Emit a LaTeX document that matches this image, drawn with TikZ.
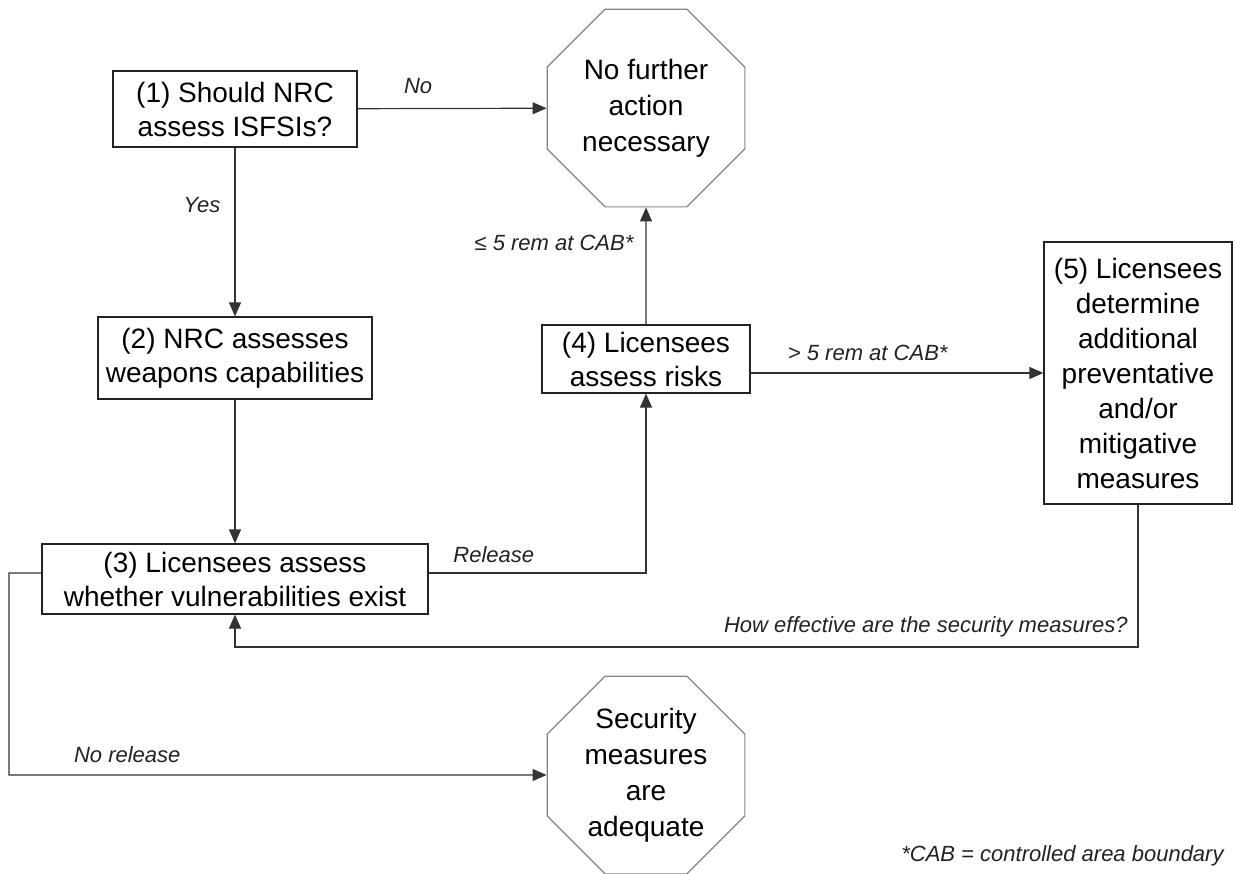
\documentclass[tikz,border=0pt]{standalone}
\usepackage{fontspec}
\setmainfont{Liberation Sans}
\usepackage{tikz}
\usetikzlibrary{positioning,arrows.meta,shapes.geometric}
\definecolor{ink}{HTML}{222222}
\definecolor{wire}{HTML}{333333}
\definecolor{edge}{HTML}{858585}
\tikzset{
  box/.style={draw=ink, line width=0.6pt, align=center, font=\fontsize{14}{17}\selectfont, inner sep=2pt},
  stop/.style={draw=edge, line width=0.6pt, regular polygon, regular polygon sides=8, minimum size=107pt, inner sep=0pt, align=center, font=\fontsize{14}{18}\selectfont},
  lab/.style={font=\fontsize{11}{12}\selectfont\itshape, text=ink, inner sep=1pt},
  flow/.style={-{Triangle[length=7pt, width=6pt]}, draw=wire, line width=0.6pt},
}
\begin{document}
\begin{tikzpicture}[x=0.5pt, y=-0.5pt]
    \useasboundingbox (0,0) rectangle (1236,873);
    % left column
    \node[box, minimum width=122pt, minimum height=38pt] (assess)  at (235,109) {(1) Should NRC\\assess ISFSIs?};
    \node[box, minimum width=137pt, minimum height=41pt] (weapons) at (235,358) {(2) NRC assesses\\weapons capabilities};
    \node[box, minimum width=193pt, minimum height=35pt] (vuln)    at (235,579) {(3) Licensees assess\\whether vulnerabilities exist};
    % middle and right
    \node[box, minimum width=104pt, minimum height=34pt] (risks)    at (646,359)  {(4) Licensees\\assess risks};
    \node[box, minimum width=94pt, minimum height=131pt, font=\fontsize{14}{17.5}\selectfont] (measures) at (1138,373) {(5) Licensees\\determine\\additional\\preventative\\and/or\\mitigative\\measures};
    % end states
    \node[stop] (none)     at (646,108) {No further\\action\\necessary};
    \node[stop] (adequate) at (646,775) {Security\\measures\\are\\adequate};
    \coordinate (loop)   at (1138,647);
    \coordinate (corner) at (9,775);
    % flows
    \draw[flow] (assess) -- node[lab, above=6pt, pos=0.32]{No} (none);
    \draw[flow] (assess) -- node[lab, left=6pt, pos=0.34]{Yes} (weapons);
    \draw[flow] (weapons) -- (vuln);
    \draw[flow] ([yshift=3pt]vuln.east) -| node[lab, above=4pt, pos=0.15]{Release} (risks.south);
    \draw[flow] (risks) -- node[lab, left=5pt, pos=0.7]{≤ 5 rem at CAB*} (none);
    \draw[flow] (risks.east |- measures.west) -- node[lab, above=5pt, pos=0.4]{> 5 rem at CAB*} (measures.west);
    \draw[flow] (measures.south) -- (loop) -| (vuln.south);
    \node[lab, anchor=south east, xshift=-4pt, yshift=4pt] (question) at (loop) {How effective are the security measures?};
    \draw[flow] ([yshift=3pt]vuln.west) -| (corner) -- node[lab, above=5pt, pos=0.22]{No release} (adequate.west);
    \node[lab, anchor=south east] (note) at (1226,868) {*CAB = controlled area boundary};
\end{tikzpicture}
\end{document}
